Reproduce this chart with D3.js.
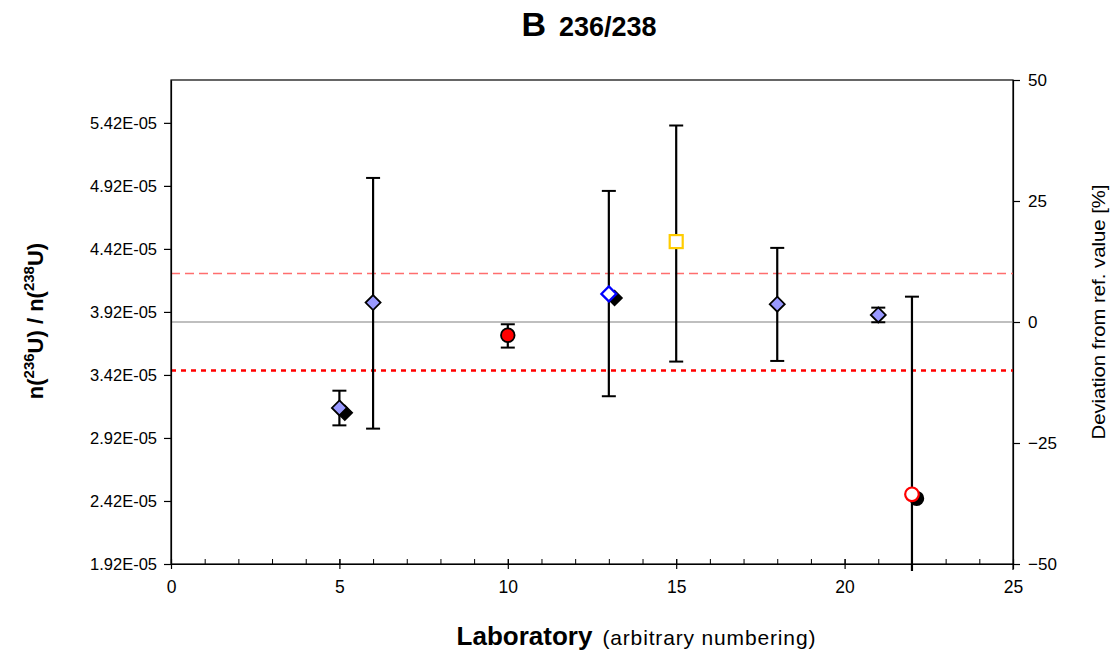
<!DOCTYPE html>
<html>
<head>
<meta charset="utf-8">
<script src="https://cdn.jsdelivr.net/npm/d3@7"></script>
<style>
  html, body { margin: 0; padding: 0; background: #fff; }
  svg { display: block; font-family: Arial, "Liberation Sans", sans-serif; }
</style>
</head>
<body>
<svg id="chart" width="1113" height="655"></svg>
<script>
// ---------- data ----------
const labs = [5, 6, 10, 13, 15, 18, 21, 22];
const ratioValues = [3.158e-5, 3.994e-5, 3.735e-5, 4.063e-5, 4.478e-5, 3.981e-5, 3.896e-5, 2.473e-5];
const ratioLow    = [3.020e-5, 2.994e-5, 3.637e-5, 3.251e-5, 3.526e-5, 3.531e-5, 3.838e-5, 0.905e-5];
const ratioHigh   = [3.295e-5, 4.983e-5, 3.822e-5, 4.880e-5, 5.399e-5, 4.428e-5, 3.954e-5, 4.041e-5];
const markerShapes  = ["diamond", "diamond", "circle", "diamond", "square", "diamond", "diamond", "circle"];
const markerFills   = ["#9999FF", "#9999FF", "#FF0000", "#FFFFFF", "#FFFFFF", "#9999FF", "#9999FF", "#FFFFFF"];
const markerStrokes = ["#000000", "#000000", "#000000", "#0000FF", "#FFCC00", "#000000", "#000000", "#FF0000"];

// black markers (second series, slightly offset)
const shadowLabs   = [5.16, 13.17, 22.14];
const shadowValues = [3.12e-5, 4.03e-5, 2.44e-5];
const shadowShapes = ["diamond", "diamond", "circle"];

const refValue = 3.84e-5;
const ratioDomain = [1.92e-5, 5.76e-5];
const deviationDomain = [-50, 50];
const leftTicks = [1.92e-5, 2.42e-5, 2.92e-5, 3.42e-5, 3.92e-5, 4.42e-5, 4.92e-5, 5.42e-5];
const leftTickLabels = ["1.92E-05", "2.42E-05", "2.92E-05", "3.42E-05", "3.92E-05", "4.42E-05", "4.92E-05", "5.42E-05"];
const rightTicks = [-50, -25, 0, 25, 50];
const xDomain = [0, 25];
const xMajorTicks = [0, 5, 10, 15, 20, 25];
const xMinorTicks = d3.range(0, 26, 1);
const upperLimit = 10;   // % deviation
const lowerLimit = -10;  // % deviation

// ---------- layout ----------
const svg = d3.select("#chart");
const m = { left: 171, right: 1013, top: 80, bottom: 564 };
const FONT = "Arial, 'Liberation Sans', sans-serif";

const x = d3.scaleLinear().domain(xDomain).range([m.left, m.right]);
const y = d3.scaleLinear().domain(ratioDomain).range([m.bottom, m.top]);
const yDev = d3.scaleLinear().domain(deviationDomain).range([m.bottom, m.top]);

svg.append("clipPath").attr("id", "clipErr")
  .append("rect").attr("x", m.left).attr("y", m.top)
  .attr("width", m.right - m.left).attr("height", m.bottom - m.top + 7);

svg.append("rect")
  .attr("x", m.left).attr("y", m.top)
  .attr("width", m.right - m.left).attr("height", m.bottom - m.top)
  .attr("fill", "none").attr("stroke", "#000").attr("stroke-width", 1.2);

svg.append("line")
  .attr("x1", m.left).attr("x2", m.right)
  .attr("y1", y(refValue)).attr("y2", y(refValue))
  .attr("stroke", "#808080").attr("stroke-width", 1.2);

svg.append("line")
  .attr("x1", m.left).attr("x2", m.right)
  .attr("y1", yDev(upperLimit)).attr("y2", yDev(upperLimit))
  .attr("stroke", "#FF6E6E").attr("stroke-width", 1.5)
  .attr("stroke-dasharray", "9,5");

svg.append("line")
  .attr("x1", m.left).attr("x2", m.right)
  .attr("y1", yDev(lowerLimit)).attr("y2", yDev(lowerLimit))
  .attr("stroke", "#FF0000").attr("stroke-width", 2.5)
  .attr("stroke-dasharray", "5,5");

// ---------- axes ----------
const leftAxis = d3.axisLeft(y).tickValues(leftTicks)
  .tickFormat((d, i) => leftTickLabels[i]).tickSize(7).tickSizeOuter(0).tickPadding(7);
const gl = svg.append("g").attr("transform", `translate(${m.left},0)`).call(leftAxis);
gl.select(".domain").attr("stroke", "#000").attr("stroke-width", 1.2);
gl.selectAll(".tick line").attr("stroke", "#000").attr("stroke-width", 1.2);
gl.selectAll(".tick text").attr("font-size", 16.5).attr("fill", "#000").attr("font-family", FONT);

const rightAxis = d3.axisRight(yDev).tickValues(rightTicks)
  .tickSize(7).tickSizeOuter(0).tickPadding(8);
const gr = svg.append("g").attr("transform", `translate(${m.right},0)`).call(rightAxis);
gr.select(".domain").attr("stroke", "#000").attr("stroke-width", 1.2);
gr.selectAll(".tick line").attr("stroke", "#000").attr("stroke-width", 1.2);
gr.selectAll(".tick text").attr("font-size", 17).attr("fill", "#000").attr("font-family", FONT);
gr.append("line").attr("x1", 0).attr("x2", 0)
  .attr("y1", m.bottom).attr("y2", m.bottom + 6).attr("stroke", "#000").attr("stroke-width", 1.2);

const gm = svg.append("g").attr("transform", `translate(0,${m.bottom})`)
  .call(d3.axisTop(x).tickValues(xMinorTicks).tickFormat("").tickSize(5).tickSizeOuter(0));
gm.select(".domain").remove();
gm.selectAll(".tick line").attr("stroke", "#000").attr("stroke-width", 1);

const gb = svg.append("g").attr("transform", `translate(0,${m.bottom})`)
  .call(d3.axisBottom(x).tickValues(xMajorTicks).tickFormat(d3.format("d"))
    .tickSize(5).tickSizeOuter(0).tickPadding(12));
gb.select(".domain").attr("stroke", "#000").attr("stroke-width", 1.2);
gb.selectAll(".tick line").attr("stroke", "#000").attr("stroke-width", 1.2).attr("y1", -5);
gb.selectAll(".tick text").attr("font-size", 17.5).attr("fill", "#000").attr("font-family", FONT);

// ---------- error bars ----------
const pts = labs.map((l, i) => ({
  lab: l, v: ratioValues[i], lo: ratioLow[i], hi: ratioHigh[i],
  shape: markerShapes[i], fill: markerFills[i], stroke: markerStrokes[i]
}));

const eb = svg.append("g").attr("clip-path", "url(#clipErr)");
const capW = 7;
pts.forEach(p => {
  const cx = x(p.lab);
  eb.append("line").attr("x1", cx).attr("x2", cx)
    .attr("y1", y(p.hi)).attr("y2", y(p.lo))
    .attr("stroke", "#000").attr("stroke-width", 2.2);
  [p.hi, p.lo].forEach(val => {
    if (val >= ratioDomain[0]) {
      eb.append("line").attr("x1", cx - capW).attr("x2", cx + capW)
        .attr("y1", y(val)).attr("y2", y(val))
        .attr("stroke", "#000").attr("stroke-width", 2);
    }
  });
});

// ---------- markers ----------
function drawMarker(g, shape, cx, cy, fill, stroke, sw) {
  if (shape === "diamond") {
    const r = 7.5;
    g.append("path")
      .attr("d", `M${cx},${cy - r}L${cx + r},${cy}L${cx},${cy + r}L${cx - r},${cy}Z`)
      .attr("fill", fill).attr("stroke", stroke).attr("stroke-width", sw)
      .attr("stroke-linejoin", "miter");
  } else if (shape === "circle") {
    g.append("circle").attr("cx", cx).attr("cy", cy).attr("r", 6.8)
      .attr("fill", fill).attr("stroke", stroke).attr("stroke-width", sw);
  } else if (shape === "square") {
    const h = 6.5;
    g.append("rect").attr("x", cx - h).attr("y", cy - h)
      .attr("width", 2 * h).attr("height", 2 * h)
      .attr("fill", fill).attr("stroke", stroke).attr("stroke-width", sw);
  }
}

const mk = svg.append("g");
shadowLabs.forEach((l, i) => {
  drawMarker(mk, shadowShapes[i], x(l), y(shadowValues[i]), "#000", "#000", 1.5);
});
pts.forEach(p => {
  const sw = p.fill === "#FFFFFF" ? 2.2 : 1.8;
  drawMarker(mk, p.shape, x(p.lab), y(p.v), p.fill, p.stroke, sw);
});

// ---------- titles ----------
const title = svg.append("text")
  .attr("x", 589).attr("y", 36)
  .attr("text-anchor", "middle").attr("font-weight", "bold").attr("fill", "#000");
title.append("tspan").attr("font-size", 34).text("B");
title.append("tspan").attr("font-size", 27).attr("dx", 13).text("236/238");

const xt = svg.append("text")
  .attr("x", 636).attr("y", 645).attr("text-anchor", "middle").attr("fill", "#000");
xt.append("tspan").attr("font-size", 26).attr("font-weight", "bold").text("Laboratory");
xt.append("tspan").attr("font-size", 21).attr("dx", 10).attr("textLength", 213)
  .attr("lengthAdjust", "spacing").text("(arbitrary numbering)");

const yt = svg.append("text")
  .attr("transform", "translate(43,321) rotate(-90)")
  .attr("text-anchor", "middle").attr("font-weight", "bold")
  .attr("font-size", 22).attr("fill", "#000");
yt.append("tspan").text("n(");
yt.append("tspan").attr("font-size", 15).attr("dy", -9).text("236");
yt.append("tspan").attr("dy", 9).text("U) / n(");
yt.append("tspan").attr("font-size", 15).attr("dy", -9).text("238");
yt.append("tspan").attr("dy", 9).text("U)");

svg.append("text")
  .attr("transform", "translate(1105,312) rotate(-90)")
  .attr("text-anchor", "middle").attr("font-size", 19).attr("fill", "#000")
  .attr("textLength", 255).attr("lengthAdjust", "spacingAndGlyphs")
  .text("Deviation from ref. value [%]");
</script>
</body>
</html>
